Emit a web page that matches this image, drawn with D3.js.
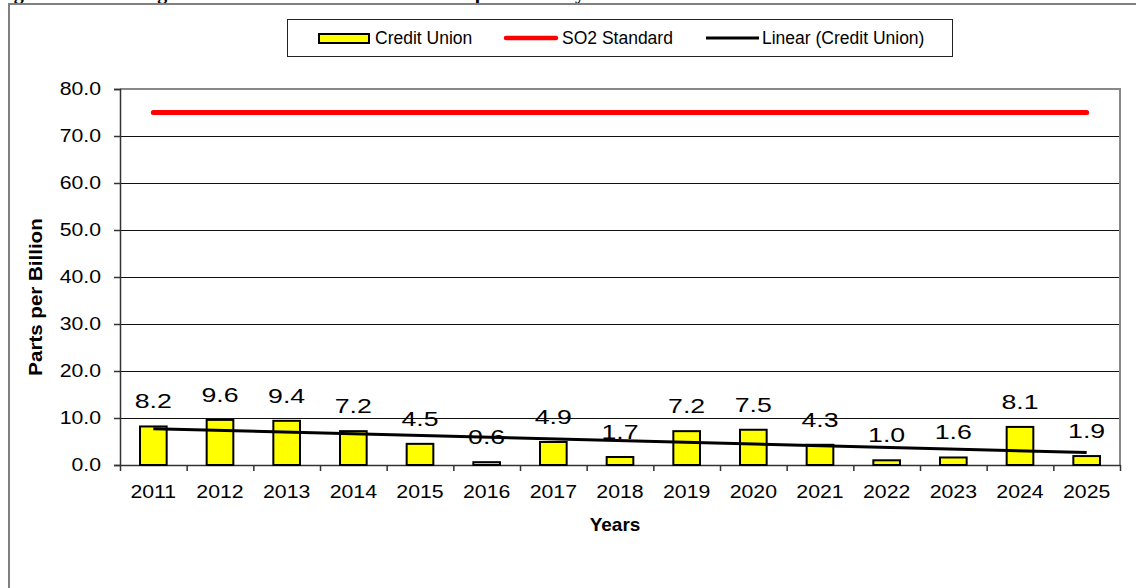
<!DOCTYPE html>
<html>
<head>
<meta charset="utf-8">
<script src="https://cdn.jsdelivr.net/npm/d3@7"></script>
<style>
  html, body { margin: 0; padding: 0; background: #fff; overflow: hidden; }
  text { font-family: "Liberation Sans", Arial, sans-serif; fill: #000; }
</style>
</head>
<body>
<div id="chart"></div>
<script>
const years = ["2011", "2012", "2013", "2014", "2015", "2016", "2017", "2018",
  "2019", "2020", "2021", "2022", "2023", "2024", "2025"];
const creditUnion = [8.2, 9.6, 9.4, 7.2, 4.5, 0.6, 4.9, 1.7, 7.2, 7.5, 4.3, 1.0, 1.6, 8.1, 1.9];
const so2Standard = [75, 75, 75, 75, 75, 75, 75, 75, 75, 75, 75, 75, 75, 75, 75];
const yTicks = [0, 10, 20, 30, 40, 50, 60, 70, 80];
const legendLabels = ["Credit Union", "SO2 Standard", "Linear (Credit Union)"];

const width = 1136;
const height = 588;
const plot = { left: 120, right: 1120, top: 89, bottom: 465 };

const svg = d3.select("#chart").append("svg")
  .attr("width", width)
  .attr("height", height);

// the source draws its glyphs wider than Arial, so scale them sideways around their anchor
function stretch(sel, k) {
  sel.each(function () {
    const t = d3.select(this);
    const x0 = +t.attr("x") || 0;
    const prev = t.attr("transform") || "";
    t.attr("transform", `${prev} translate(${x0},0) scale(${k},1) translate(${-x0},0)`);
  });
}

// cut-off caption line above the frame
svg.append("text")
  .attr("x", -4)
  .attr("y", -1)
  .style("font-family", "'Liberation Serif', 'Times New Roman', serif")
  .style("font-weight", "bold")
  .style("font-size", "20px")
  .text("Figure 9: SO2 Design Values at Credit Union Site - 99th percentile by Year");

// outer frame
svg.append("rect")
  .attr("x", 9)
  .attr("y", 4)
  .attr("width", 1140)
  .attr("height", 600)
  .attr("fill", "none")
  .attr("stroke", "#808080")
  .attr("stroke-width", 2);

const x = d3.scaleBand()
  .domain(years)
  .range([plot.left, plot.right]);

const xEdge = d3.scaleLinear()
  .domain([0, years.length])
  .range([plot.left, plot.right]);

const y = d3.scaleLinear()
  .domain([0, 80])
  .range([plot.bottom, plot.top]);

// gridlines
svg.append("g")
  .selectAll("line")
  .data(yTicks.filter(d => d > 0 && d < 80))
  .enter()
  .append("line")
  .attr("x1", plot.left)
  .attr("x2", plot.right)
  .attr("y1", d => y(d) + 0.5)
  .attr("y2", d => y(d) + 0.5)
  .attr("stroke", "#111")
  .attr("stroke-width", 1);

// plot area border (top / right)
svg.append("path")
  .attr("d", `M${plot.left},${plot.top}H${plot.right}V${plot.bottom}`)
  .attr("fill", "none")
  .attr("stroke", "#888")
  .attr("stroke-width", 2);

// y axis
const yAxis = svg.append("g")
  .attr("transform", `translate(${plot.left},0)`)
  .call(d3.axisLeft(y).tickValues(yTicks).tickFormat(d3.format(".1f")).tickSize(6).tickPadding(13));
yAxis.select(".domain").attr("stroke", "#333").attr("stroke-width", 1.5);
yAxis.selectAll(".tick line").attr("stroke", "#333").attr("stroke-width", 1.5);
yAxis.selectAll("text")
  .style("font-size", "18px")
  .attr("font-family", null)
  .call(stretch, 1.18);

// x axis: ticks on category edges, labels at centres
const xTickAxis = svg.append("g")
  .attr("transform", `translate(0,${plot.bottom})`)
  .call(d3.axisBottom(xEdge).tickValues(d3.range(years.length + 1)).tickFormat("").tickSize(6).tickSizeOuter(0));
xTickAxis.select(".domain").attr("stroke", "#333").attr("stroke-width", 1.5);
xTickAxis.selectAll(".tick line").attr("stroke", "#333").attr("stroke-width", 1.5);

const xLabelAxis = svg.append("g")
  .attr("transform", `translate(0,${plot.bottom})`)
  .call(d3.axisBottom(x).tickSize(0).tickPadding(20));
xLabelAxis.select(".domain").remove();
xLabelAxis.selectAll("text")
  .style("font-size", "19px")
  .attr("font-family", null)
  .call(stretch, 1.12);

// bars
const barW = x.bandwidth() * 0.4;
svg.append("g")
  .selectAll("rect")
  .data(creditUnion)
  .enter()
  .append("rect")
  .attr("x", (d, i) => x(years[i]) + (x.bandwidth() - barW) / 2)
  .attr("y", d => y(d))
  .attr("width", barW)
  .attr("height", d => plot.bottom - y(d))
  .attr("fill", "#ffff00")
  .attr("stroke", "#000")
  .attr("stroke-width", 2);

// SO2 standard line
const line = d3.line()
  .x((d, i) => x(years[i]) + x.bandwidth() / 2)
  .y(d => y(d));

svg.append("path")
  .datum(so2Standard)
  .attr("d", line)
  .attr("fill", "none")
  .attr("stroke", "#ff0000")
  .attr("stroke-width", 5)
  .attr("stroke-linecap", "round");

// linear trend of the credit union series (least squares, like the spreadsheet trendline)
const n = creditUnion.length;
const xs = d3.range(1, n + 1);
const mx = d3.mean(xs);
const my = d3.mean(creditUnion);
const slope = d3.sum(xs, (v, i) => (v - mx) * (creditUnion[i] - my)) / d3.sum(xs, v => (v - mx) ** 2);
const intercept = my - slope * mx;
const trend = [xs[0], xs[n - 1]].map(v => ({ i: v - 1, v: intercept + slope * v }));

svg.append("path")
  .datum(trend)
  .attr("d", d3.line().x(d => x(years[d.i]) + x.bandwidth() / 2).y(d => y(d.v)))
  .attr("fill", "none")
  .attr("stroke", "#000")
  .attr("stroke-width", 3);

// value labels
svg.append("g")
  .selectAll("text")
  .data(creditUnion)
  .enter()
  .append("text")
  .attr("x", (d, i) => x(years[i]) + x.bandwidth() / 2)
  .attr("y", d => y(d) - 18)
  .attr("text-anchor", "middle")
  .style("font-size", "21px")
  .text(d => d.toFixed(1))
  .call(stretch, 1.27);

// axis titles
svg.append("text")
  .attr("transform", `translate(42,297) rotate(-90)`)
  .attr("text-anchor", "middle")
  .style("font-size", "18px")
  .style("font-weight", "bold")
  .text("Parts per Billion")
  .call(stretch, 1.14);

svg.append("text")
  .attr("x", 615)
  .attr("y", 531)
  .attr("text-anchor", "middle")
  .style("font-size", "19px")
  .style("font-weight", "bold")
  .text("Years");

// legend
const legend = svg.append("g");
legend.append("rect")
  .attr("x", 287.5)
  .attr("y", 19.5)
  .attr("width", 665)
  .attr("height", 37)
  .attr("fill", "#fff")
  .attr("stroke", "#222")
  .attr("stroke-width", 1);

legend.append("rect")
  .attr("x", 319)
  .attr("y", 34)
  .attr("width", 50)
  .attr("height", 9)
  .attr("fill", "#ffff00")
  .attr("stroke", "#000")
  .attr("stroke-width", 2);

legend.append("line")
  .attr("x1", 506).attr("x2", 556)
  .attr("y1", 38).attr("y2", 38)
  .attr("stroke", "#ff0000")
  .attr("stroke-width", 4.5)
  .attr("stroke-linecap", "round");

legend.append("line")
  .attr("x1", 706).attr("x2", 759)
  .attr("y1", 38).attr("y2", 38)
  .attr("stroke", "#000")
  .attr("stroke-width", 3);

legend.selectAll("text.item")
  .data(legendLabels)
  .enter()
  .append("text")
  .attr("class", "item")
  .attr("x", (d, i) => [375, 562, 762][i])
  .attr("y", 44)
  .style("font-size", "17.5px")
  .text(d => d);
</script>
</body>
</html>
